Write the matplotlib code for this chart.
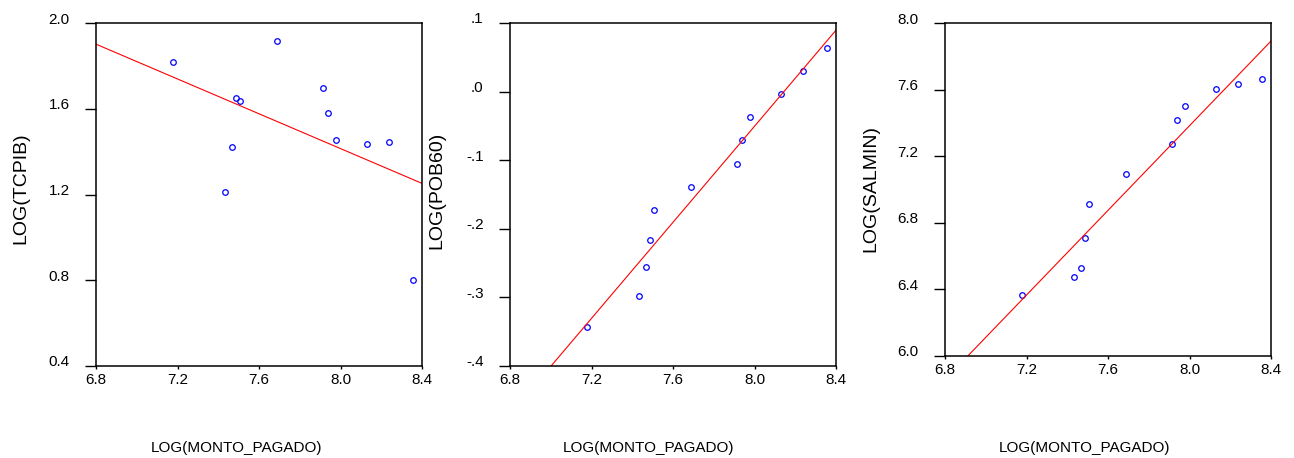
import numpy as np
import matplotlib
matplotlib.use("Agg")
import matplotlib.pyplot as plt
from matplotlib.transforms import ScaledTranslation

plt.rcParams['font.family'] = ['Liberation Sans', 'DejaVu Sans']

# Data
log_monto = [7.177, 7.432, 7.467, 7.486, 7.507, 7.689, 7.914, 7.938, 7.979, 8.130, 8.238, 8.356]
log_tcpib = [1.818, 1.213, 1.420, 1.650, 1.634, 1.918, 1.698, 1.581, 1.452, 1.435, 1.443, 0.799]
log_pob60 = [-0.343, -0.298, -0.256, -0.216, -0.173, -0.139, -0.105, -0.070, -0.037, -0.003, 0.030, 0.063]
log_salmin = [6.365, 6.477, 6.528, 6.708, 6.913, 7.095, 7.276, 7.416, 7.502, 7.605, 7.633, 7.663]

x_ticks = [6.8, 7.2, 7.6, 8.0, 8.4]
x_ticklabels = ['6.8', '7.2', '7.6', '8.0', '8.4']
x_title = 'LOG(MONTO_PAGADO)'

panels = [
    ('LOG(TCPIB)', log_tcpib, [0.4, 0.8, 1.2, 1.6, 2.0], ['0.4', '0.8', '1.2', '1.6', '2.0']),
    ('LOG(POB60)', log_pob60, [-0.4, -0.3, -0.2, -0.1, 0.0, 0.1], ['-.4', '-.3', '-.2', '-.1', '.0', '.1']),
    ('LOG(SALMIN)', log_salmin, [6.0, 6.4, 6.8, 7.2, 7.6, 8.0], ['6.0', '6.4', '6.8', '7.2', '7.6', '8.0']),
]

W, H = 1294, 458
fig = plt.figure(figsize=(W / 100, H / 100), dpi=100)

# pixel boxes: left, right, top, bottom
boxes = [(96, 422, 23, 366), (510, 836, 23, 366), (945, 1271, 23, 356)]
ylabel_x = [21, 437, 871]
ylabel_y = [188, 190, 189]
xlabel_x = [236, 648, 1084]

for (ylab, yvals, yt, ytl), (l, r, t, b), lx, ly, xx in zip(panels, boxes, ylabel_x, ylabel_y, xlabel_x):
    ax = fig.add_axes([l / W, 1 - b / H, (r - l) / W, (b - t) / H])
    ax.plot(log_monto, yvals, 'o', ms=4, mfc='none', mec='#0000ff', mew=0.9)
    slope, inter = np.polyfit(log_monto, yvals, 1)
    xs = np.array([6.8, 8.4])
    ax.plot(xs, slope * xs + inter, color='#ff0000', lw=0.8)
    ax.set_xlim(6.8, 8.4)
    ax.set_ylim(yt[0], yt[-1])
    ax.set_xticks(x_ticks)
    ax.set_xticklabels(x_ticklabels)
    ax.set_yticks(yt)
    ax.set_yticklabels(ytl)
    ax.tick_params(axis='y', direction='out', length=8, width=1, pad=11, labelsize=11)
    ax.tick_params(axis='x', direction='out', length=2, width=1, pad=3, labelsize=11)
    for lab in ax.get_yticklabels():
        lab.set_transform(lab.get_transform() + ScaledTranslation(0, 5 / 100, fig.dpi_scale_trans))
    for sp in ax.spines.values():
        sp.set_linewidth(1.1)
    fig.text(lx / W, 1 - ly / H, ylab, rotation=90, ha='center', va='center', fontsize=14)
    fig.text(xx / W, 1 - 448 / H, x_title, ha='center', va='center', fontsize=11)

fig.savefig('out.png', dpi=100)
